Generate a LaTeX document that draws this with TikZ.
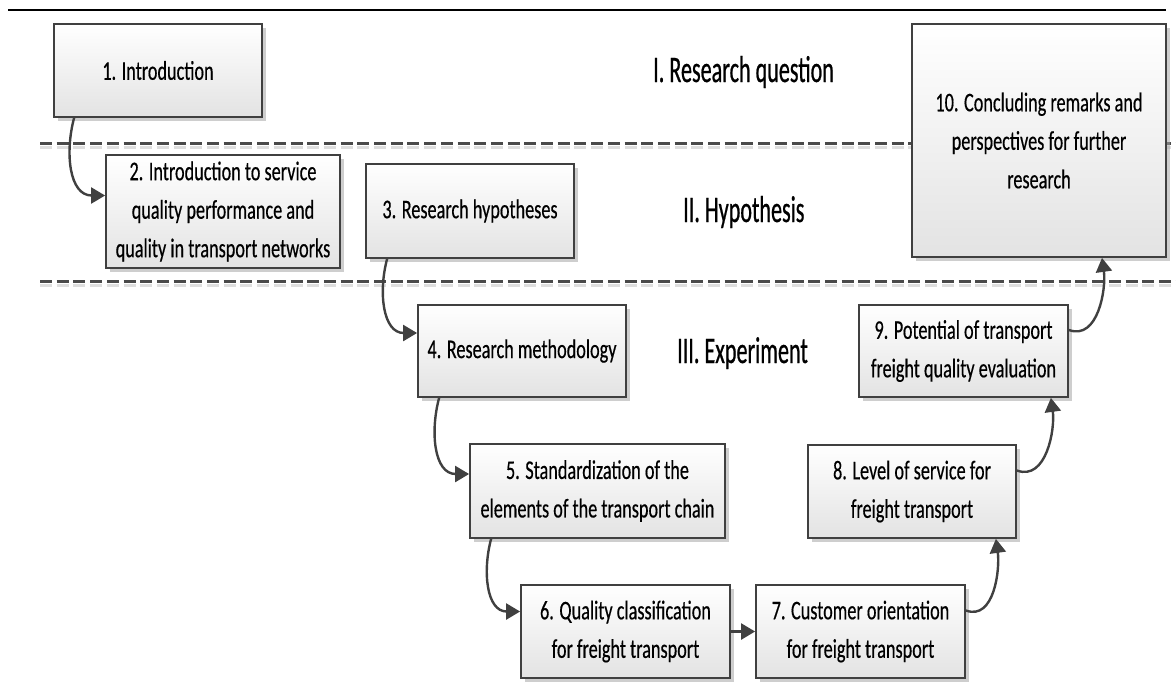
\documentclass[tikz,border=0pt]{standalone}
\usepackage{fontspec}
\usetikzlibrary{arrows.meta,shadows}
\newfontfamily\boxfont[FakeStretch=0.675, FakeBold=0.4]{Carlito}
\newfontfamily\headfont[FakeStretch=0.59, FakeBold=0.6]{Carlito}
\definecolor{edge}{HTML}{404040}
\definecolor{dashc}{HTML}{4A4A4A}
\tikzset{
  stage/.style={draw=edge, line width=1.8pt, rectangle, inner sep=0pt,
    top color=white, bottom color=black!11, align=center,
    font=\boxfont\fontsize{27}{38.5}\selectfont,
    drop shadow={shadow xshift=3.5pt, shadow yshift=-3.5pt, fill=black!35, opacity=0.55}},
  phase/.style={font=\headfont\fontsize{37.5}{44}\selectfont, anchor=base west, inner sep=0pt},
  conn/.style={draw=edge, line width=2.4pt, -{Triangle[length=14pt,width=16pt]}},
  divider/.style={dashc, line width=3pt, dash pattern=on 12pt off 4.7pt},
  dividershade/.style={black!13, line width=3pt, dash pattern=on 12pt off 4.7pt}
}
\begin{document}
\begin{tikzpicture}[x=1pt,y=-1pt]
\useasboundingbox (0,0) rectangle (1176,697);

% top rule
\draw[line width=2.7pt] (8,10) -- (1166,10);

% phase dividers (each with a faint shadow line beneath)
\draw[dividershade] (40,147) -- (1176,147);
\draw[divider] (40,143) -- (1176,143);
\draw[dividershade] (40,285) -- (1176,285);
\draw[divider] (40,281) -- (1176,281);

% phase titles
\node[phase] (p1) at (653,82) {I. Research question};
\node[phase] (p2) at (683,222) {II. Hypothesis};
\node[phase] (p3) at (677,363) {III. Experiment};

% stages
\node[stage, minimum width=208pt, minimum height=93pt] (b1) at (158,70.5) {1. Introduction};
\node[stage, minimum width=234pt, minimum height=113pt] (b2) at (223,211.5)
  {2. Introduction to service\\quality performance and\\quality in transport networks};
\node[stage, minimum width=208pt, minimum height=94pt] (b3) at (470,211) {3. Research hypotheses};
\node[stage, minimum width=208pt, minimum height=92pt] (b4) at (522,351) {4. Research methodology};
\node[stage, minimum width=255pt, minimum height=94pt] (b5) at (597.5,491)
  {5. Standardization of the\\elements of the transport chain};
\node[stage, minimum width=209pt, minimum height=93pt] (b6) at (625.5,631.5)
  {6. Quality classification\\for freight transport};
\node[stage, minimum width=209pt, minimum height=93pt] (b7) at (860.5,631.5)
  {7. Customer orientation\\for freight transport};
\node[stage, minimum width=208pt, minimum height=93pt] (b8) at (912,491.5)
  {8. Level of service for\\freight transport};
\node[stage, minimum width=209pt, minimum height=92pt] (b9) at (963.5,351)
  {9. Potential of transport\\freight quality evaluation};
\node[stage, minimum width=254pt, minimum height=233pt] (b10) at (1039,140.5)
  {10. Concluding remarks and\\perspectives for further\\research};

% flow
\draw[conn] ([xshift=21pt]b1.south west) to[out=-105, in=180, looseness=1.1] ([yshift=16pt]b2.west);
\draw[conn] ([xshift=22pt]b3.south west) to[out=-105, in=180, looseness=1.1] ([yshift=18pt]b4.west);
\draw[conn] ([xshift=22pt]b4.south west) to[out=-105, in=180, looseness=1.1] ([yshift=17pt]b5.west);
\draw[conn] ([xshift=22pt]b5.south west) to[out=-105, in=180, looseness=1.1] ([yshift=20pt]b6.west);
\draw[conn] (b6.east) -- (b7.west);
\draw[conn] ([yshift=21pt]b7.east) to[out=-20, in=-82] ([xshift=-21pt]b8.south east);
\draw[conn] ([yshift=21pt]b8.east) to[out=-20, in=-82] ([xshift=-18pt]b9.south east);
\draw[conn] ([yshift=21pt]b9.east) to[out=-20, in=-82] ([xshift=63pt]b10.south);
\end{tikzpicture}
\end{document}
